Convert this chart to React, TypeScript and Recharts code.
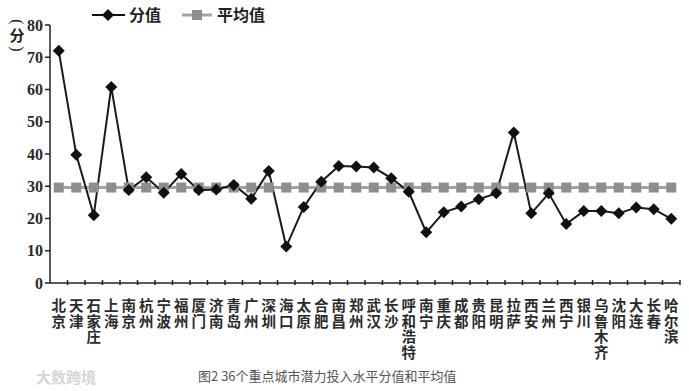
import { LineChart, Line, XAxis, YAxis, Legend } from "recharts";

const cities = [
  "北京", "天津", "石家庄", "上海", "南京", "杭州", "宁波", "福州", "厦门",
  "济南", "青岛", "广州", "深圳", "海口", "太原", "合肥", "南昌", "郑州",
  "武汉", "长沙", "呼和浩特", "南宁", "重庆", "成都", "贵阳", "昆明", "拉萨",
  "西安", "兰州", "西宁", "银川", "乌鲁木齐", "沈阳", "大连", "长春", "哈尔滨",
];

const scores = [
  72, 39.8, 21, 60.8, 28.8, 32.8, 28, 33.8, 28.8,
  29, 30.4, 26.1, 34.7, 11.3, 23.6, 31.4, 36.3, 36.1,
  35.8, 32.5, 28.3, 15.7, 21.9, 23.7, 26, 27.8, 46.7,
  21.6, 27.8, 18.3, 22.3, 22.3, 21.6, 23.4, 22.9, 19.9,
];

const averageScore = 29.6;

const yTicks = [0, 10, 20, 30, 40, 50, 60, 70, 80];

const data = cities.map((city, i) => ({
  city,
  score: scores[i],
  average: averageScore,
}));

const CHART_W = 689;
const CHART_H = 391;
const MARGIN = { top: 25, right: 9, bottom: 38, left: 10 };
const Y_AXIS_W = 40;
const PLOT_W = 630;
const HALF_BAND = PLOT_W / cities.length / 2;

const FONT_CN = "'Noto Sans CJK SC', sans-serif";

function Diamond(props: any) {
  const { cx, cy } = props;
  if (cx == null || cy == null) return null;
  const r = 6;
  return (
    <polygon
      points={`${cx},${cy - r} ${cx + r},${cy} ${cx},${cy + r} ${cx - r},${cy}`}
      fill="#111"
    />
  );
}

function Square(props: any) {
  const { cx, cy } = props;
  if (cx == null || cy == null) return null;
  const s = 10;
  return <rect x={cx - s / 2} y={cy - s / 2} width={s} height={s} fill="#8e8e8e" />;
}

// city names are written top to bottom, one character per line
function CityTick(props: any) {
  const { x, y, payload } = props;
  const chars: string[] = Array.from(String(payload.value));
  return (
    <g>
      <line x1={x + HALF_BAND} x2={x + HALF_BAND} y1={y - 6} y2={y - 11} stroke="#222" strokeWidth={1.5} />
      {chars.map((c, i) => (
        <text
          key={i}
          x={x}
          y={y + 20 + i * 15.5}
          textAnchor="middle"
          fontFamily={FONT_CN}
          fontSize={14.5}
          fontWeight={700}
          fill="#2a2a2a"
        >
          {c}
        </text>
      ))}
    </g>
  );
}

function LegendContent() {
  return (
    <div style={{ position: "absolute", left: 0, top: 0, width: 300, height: 30 }}>
      <svg width={300} height={30} style={{ position: "absolute", left: 0, top: 0 }}>
        <line x1={92} x2={125} y1={15} y2={15} stroke="#111" strokeWidth={2} />
        <polygon points="108,9 114,15 108,21 102,15" fill="#111" />
        <line x1={182} x2={212} y1={15} y2={15} stroke="#a3a3a3" strokeWidth={3} />
        <rect x={192} y={10} width={10} height={10} fill="#8e8e8e" />
        <text x={129} y={21} fontFamily={FONT_CN} fontSize={16} fontWeight={700} fill="#222">分值</text>
        <text x={217} y={21} fontFamily={FONT_CN} fontSize={16} fontWeight={700} fill="#222">平均值</text>
      </svg>
    </div>
  );
}

// "（分）" written vertically: brackets turned a quarter, the character upright
function YUnitLabel() {
  return (
    <g fontFamily="'Liberation Serif', serif" fill="#222" textAnchor="middle">
      <text x={17} y={22} fontSize={16} transform="rotate(90 17 22)" dominantBaseline="central">(</text>
      <text x={17} y={41} fontSize={15} fontWeight={700} fontFamily={FONT_CN}>分</text>
      <text x={17} y={49} fontSize={16} transform="rotate(90 17 49)" dominantBaseline="central">)</text>
    </g>
  );
}

export default function App() {
  return (
    <div
      style={{
        position: "absolute",
        left: 0,
        top: 0,
        width: CHART_W,
        height: CHART_H,
        background: "#fff",
        overflow: "hidden",
      }}
    >
      <LineChart width={CHART_W} height={CHART_H} data={data} margin={MARGIN}>
        <XAxis
          dataKey="city"
          interval={0}
          height={70}
          padding={{ left: HALF_BAND, right: HALF_BAND }}
          tick={<CityTick />}
          tickLine={false}
          axisLine={{ stroke: "#222", strokeWidth: 1.5 }}
        />
        <YAxis
          domain={[0, 80]}
          ticks={yTicks}
          width={Y_AXIS_W}
          tickSize={5}
          tickLine={{ stroke: "#222", strokeWidth: 1.5 }}
          axisLine={{ stroke: "#222", strokeWidth: 1.5 }}
          tick={{ fontFamily: "'Liberation Serif', serif", fontSize: 16, fontWeight: 700, fill: "#2a2a2a" }}
          label={{ content: () => <YUnitLabel /> }}
        />
        <Legend content={() => <LegendContent />} wrapperStyle={{ left: 0, top: 0 }} verticalAlign="top" />
        <Line
          dataKey="average"
          stroke="#a3a3a3"
          strokeWidth={3}
          dot={<Square />}
          activeDot={false}
          isAnimationActive={false}
        />
        <Line
          dataKey="score"
          stroke="#1a1a1a"
          strokeWidth={2}
          dot={<Diamond />}
          activeDot={false}
          isAnimationActive={false}
        />
      </LineChart>
      <div
        style={{
          position: "absolute",
          left: 36,
          top: 366,
          fontFamily: FONT_CN,
          fontSize: 15,
          fontWeight: 700,
          color: "#d6d6d6",
        }}
      >
        大数跨境
      </div>
      <div
        style={{
          position: "absolute",
          left: 198,
          top: 366,
          fontFamily: FONT_CN,
          fontSize: 13,
          color: "#555",
          whiteSpace: "nowrap",
        }}
      >
        图2 36个重点城市潜力投入水平分值和平均值
      </div>
    </div>
  );
}
